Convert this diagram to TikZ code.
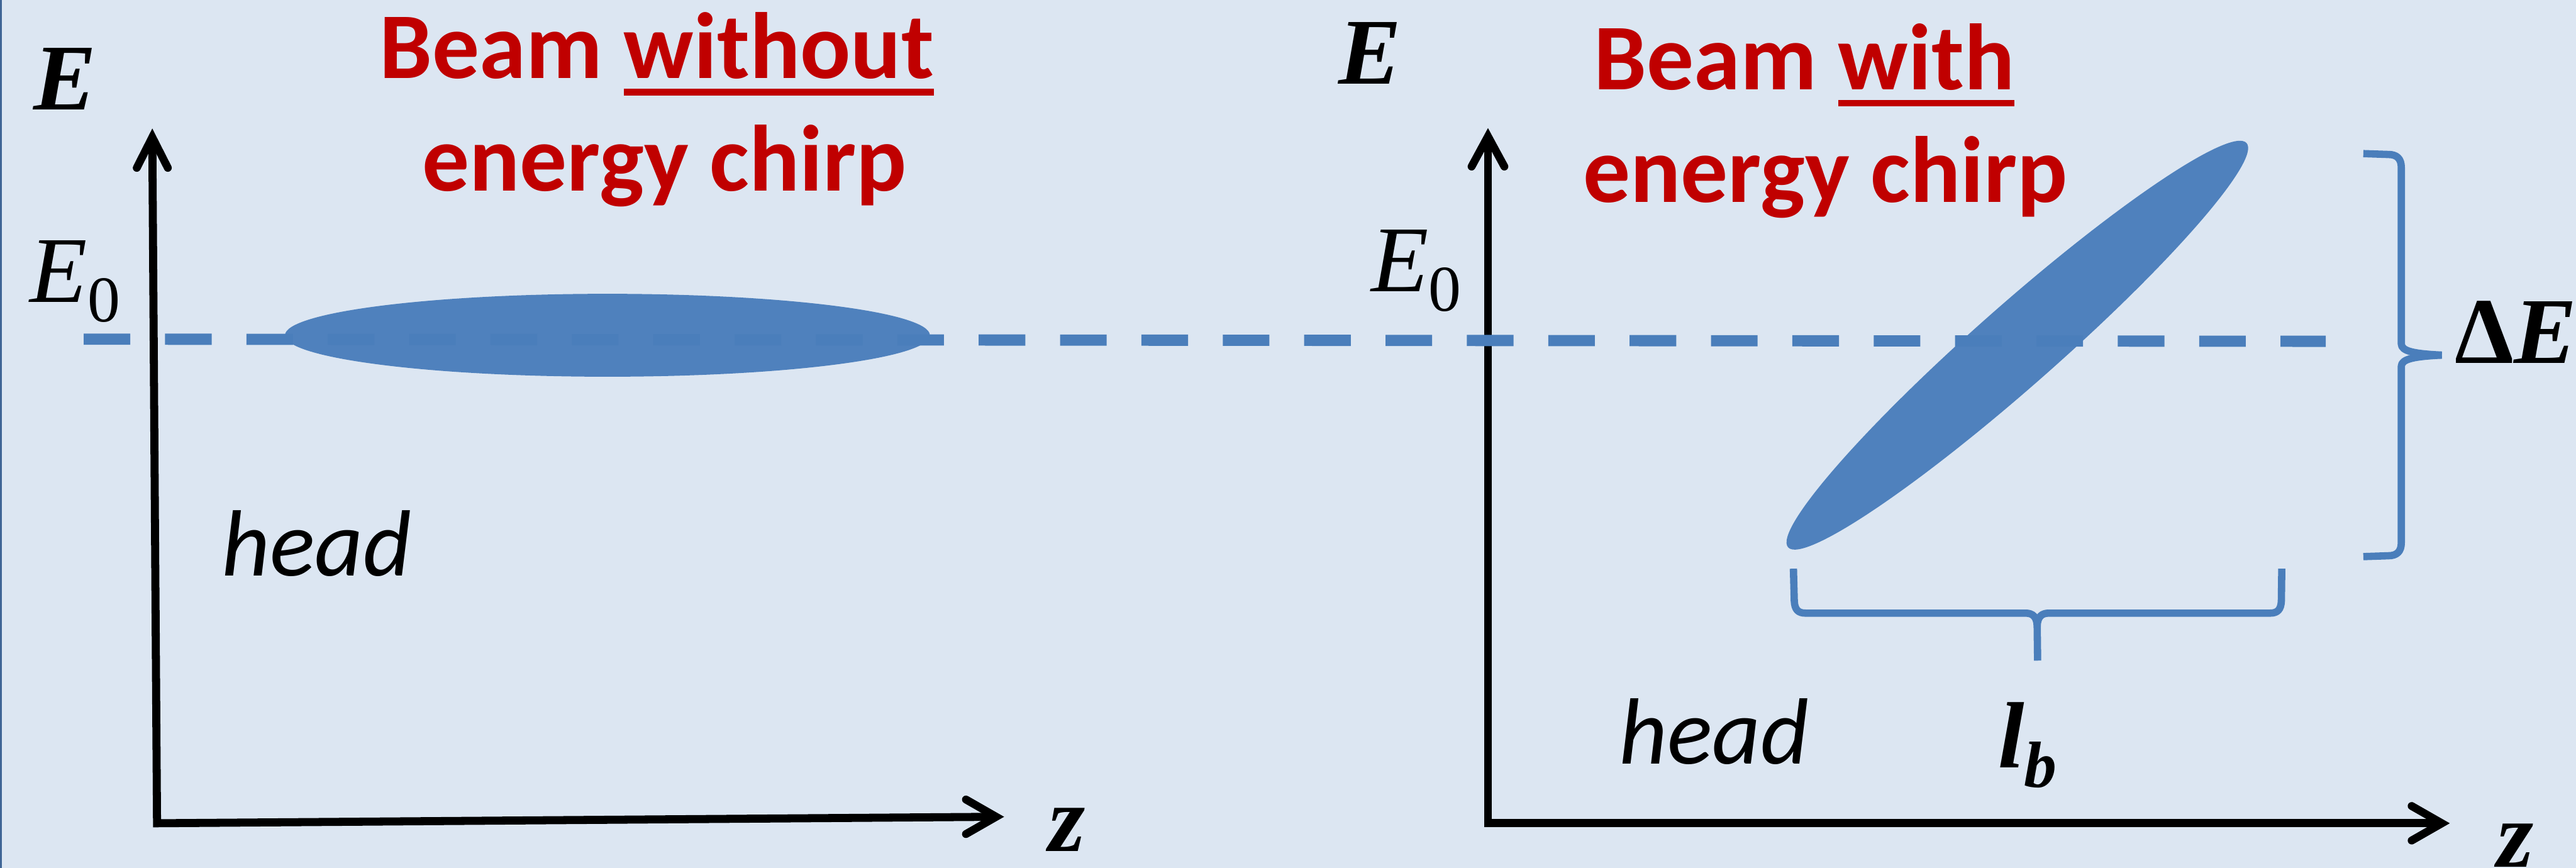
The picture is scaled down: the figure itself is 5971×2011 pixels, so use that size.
\documentclass[tikz,border=0pt]{standalone}
\usepackage{fontspec}
\newfontfamily\carl{Carlito}
\newfontfamily\mser{Liberation Serif}
\definecolor{bgblue}{HTML}{DCE6F2}
\definecolor{beamblue}{HTML}{4F81BD}
\definecolor{dashblue}{HTML}{4A7EBB}
\definecolor{titlered}{HTML}{C00000}
\definecolor{edgeblue}{HTML}{3F6596}
\newsavebox\ulbox
\newcommand\myul[1]{\sbox\ulbox{#1}\rlap{\rule[-11.1pt]{\wd\ulbox}{4.3pt}}\usebox\ulbox}
\newcommand\mbi[1]{{\bfseries\itshape #1}}
\newcommand\myit[1]{{\itshape #1}}
\newcommand\subsc[1]{\raisebox{-12.7pt}{\fontsize{43}{50}\selectfont #1}}
\begin{document}
\begin{tikzpicture}[x=0.01cm,y=-0.01cm,
  titletext/.style={inner sep=0pt, outer sep=0pt, anchor=base, text=titlered,
    font=\fontsize{62}{74}\selectfont\carl\bfseries},
  mlab/.style={inner sep=0pt, outer sep=0pt, anchor=base, text=black,
    font=\fontsize{62}{74}\selectfont\mser},
  hlab/.style={inner sep=0pt, outer sep=0pt, anchor=base, text=black,
    font=\fontsize{62}{74}\selectfont\carl\itshape},
  axisline/.style={draw=black, line width=5.3pt, line join=miter},
  chevron/.style={draw=black, line width=5.2pt, line cap=round, line join=miter},
  beam/.style={fill=beamblue},
  refline/.style={draw=dashblue, line width=7.4pt, dash pattern=on 30.73pt off 22.9pt},
  bracepath/.style={draw=dashblue, line width=4.8pt, line join=round}]
\useasboundingbox (0,0) rectangle (5971,2011);
\fill[bgblue] (0,0) rectangle (5971,2011);
\fill[edgeblue] (0,0) rectangle (5,2011);

% beams
\fill[beam] (1408,777) ellipse [x radius=7.47cm, y radius=0.96cm];
\fill[beam, shift={(4676,800)}, rotate=41.4] (0,0) ellipse [x radius=7.08cm, y radius=0.94cm];

% left axes
\coordinate (LO) at (364,1908);
\coordinate (LYt) at (353,318);
\coordinate (LXt) at (2309,1893);
\draw[axisline] (LYt) -- (LO) -- (LXt);
\draw[chevron] (317,389) -- (LYt) -- (389,389);
\draw[chevron] (2239,1853) -- (LXt) -- (2239,1933);

% right axes
\coordinate (RO) at (3449,1908);
\coordinate (RYt) at (3449,316);
\coordinate (RXt) at (5660,1908);
\draw[axisline] (RYt) -- (RO) -- (RXt);
\draw[chevron] (3411,386) -- (RYt) -- (3487,386);
\draw[chevron] (5590,1868) -- (RXt) -- (5590,1948);

% reference energy line
\coordinate (D1) at (194,786);
\coordinate (D2) at (5391,791);
\draw[refline] (D1) -- (D2);

% Delta E brace
\draw[bracepath] (5478,356) -- (5536,358) .. controls (5556,358) and (5566,368) .. (5566,388)
  -- (5566,797) .. controls (5566,815) and (5600,820) .. (5660,823);
\draw[bracepath] (5660,823) .. controls (5600,826) and (5566,831) .. (5566,849)
  -- (5566,1258) .. controls (5566,1278) and (5556,1288) .. (5536,1288) -- (5478,1290);

% l_b brace
\draw[bracepath] (4157,1318) -- (4159,1393) .. controls (4160,1413) and (4168,1421) .. (4185,1421)
  -- (4695,1421) .. controls (4712,1421) and (4721,1430) .. (4722,1450) -- (4723,1531);
\draw[bracepath] (4722,1450) .. controls (4723,1430) and (4732,1421) .. (4749,1421)
  -- (5262,1421) .. controls (5279,1421) and (5287,1413) .. (5288,1393) -- (5289,1318);

% titles
\node[titletext] (t1a) at (1522,182) {Beam \myul{without}};
\node[titletext] (t1b) at (1540,443) {energy chirp};
\node[titletext] (t2a) at (4182,208) {Beam \myul{with}};
\node[titletext] (t2b) at (4231,468) {energy chirp};

% math labels
\node[mlab] (Eleft) at (150,255) {\mbi{E}};
\node[mlab] (E0left) at (174,701) {\myit{E}\subsc{0}};
\node[mlab] (zleft) at (2473,1973) {\mbi{z}};
\node[mlab] (Eright) at (3175,194) {\mbi{E}};
\node[mlab] (E0right) at (3283,676) {\myit{E}\subsc{0}};
\node[mlab] (dE) at (5831,842) {{\bfseries Δ}\mbi{E}};
\node[mlab] (lb) at (4700,1779) {\mbi{l}\subsc{\mbi{b}}};
\node[mlab] (zright) at (5830,2010) {\mbi{z}};

% head labels
\node[hlab] (h1) at (734,1335) {head};
\node[hlab] (h2) at (3973,1771) {head};
\end{tikzpicture}
\end{document}
